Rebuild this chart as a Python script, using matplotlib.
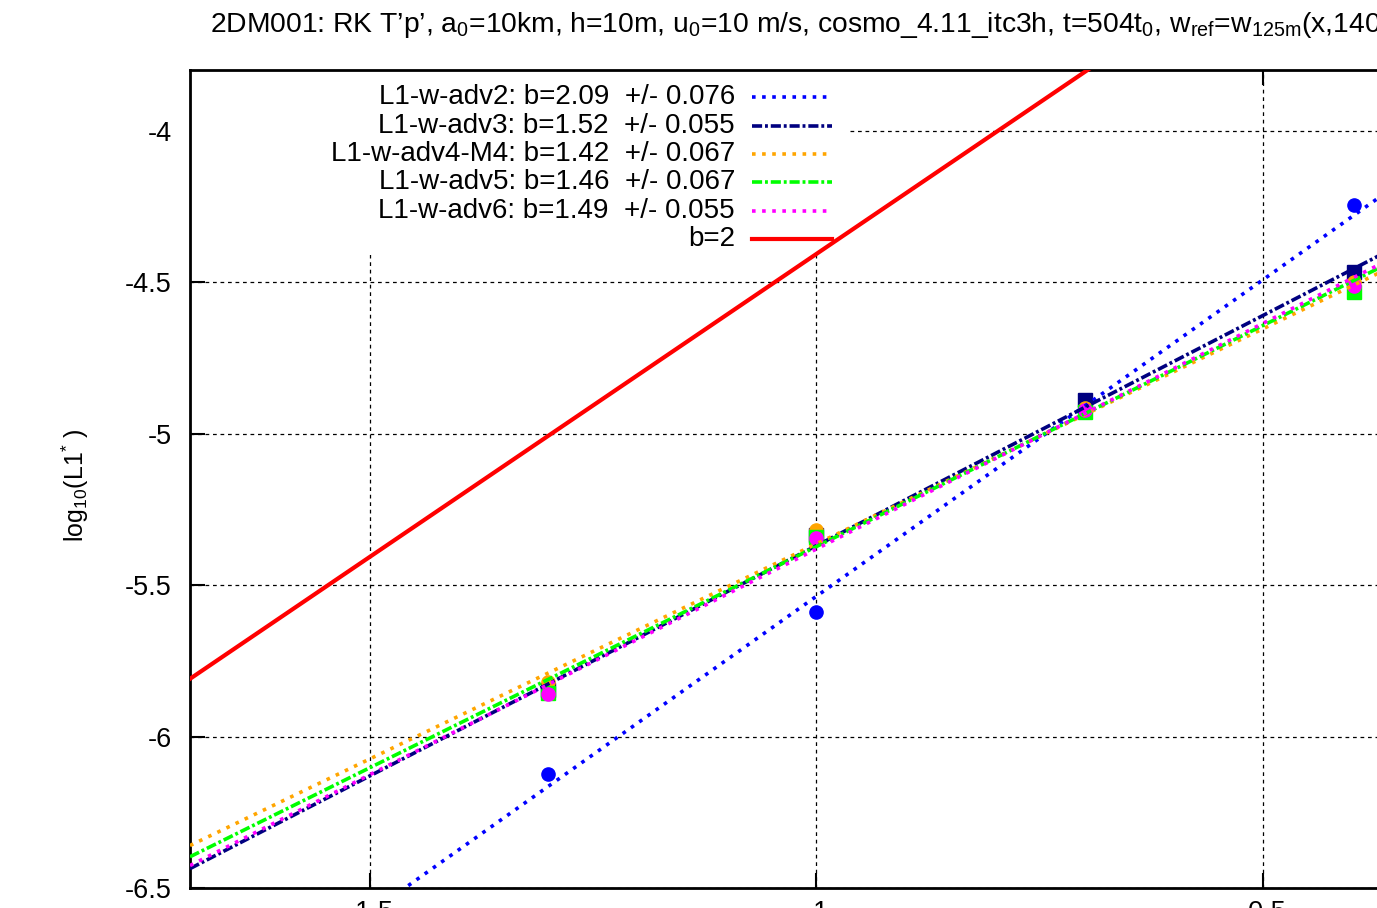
import matplotlib
matplotlib.use("Agg")
import matplotlib.pyplot as plt
import numpy as np

plt.rcParams['font.family'] = ['Liberation Sans', 'DejaVu Sans']
plt.rcParams['mathtext.fontset'] = 'custom'
plt.rcParams['mathtext.rm'] = 'Liberation Sans'
plt.rcParams['mathtext.it'] = 'Liberation Sans'
plt.rcParams['mathtext.default'] = 'regular'

# log10 of resolution, measured points
x_pts = [-1.301, -1.0, -0.699, -0.398]
adv2 = [-6.124, -5.588, -4.890, -4.247]
adv3 = [-5.845, -5.335, -4.890, -4.467]
adv4 = [-5.819, -5.317, -4.915, -4.500]
adv5 = [-5.857, -5.340, -4.930, -4.533]
adv6 = [-5.860, -5.346, -4.923, -4.514]

# fitted lines y = a + b*x
names = ["L1-w-adv2", "L1-w-adv3", "L1-w-adv4-M4", "L1-w-adv5", "L1-w-adv6"]
slopes = [2.09, 1.52, 1.42, 1.46, 1.49]
errs = ["0.076", "0.055", "0.067", "0.067", "0.055"]
intercepts = [-3.447, -3.850, -3.944, -3.913, -3.891]
ref_slope = 2
ref_intercept = -2.407

colors = ["#0000ff", "#000080", "#ffa500", "#00ff00", "#ff00ff"]
markers = ["o", "s", "o", "s", "o"]
dot = (1, 1.8)
dashdot = (2.8, 0.8, 0.8, 0.8)
dashes = [dot, dashdot, dot, dashdot, dot]
LW = 2.6
FS = 20

W, H = 1377, 908
fig = plt.figure(figsize=(W / 100, H / 100), dpi=100)
x0, x1 = -1.7013, -0.3143
ax = fig.add_axes([190 / W, 1 - 888 / H, (1429 - 190) / W, (888 - 70) / H])
ax.set_xlim(x0, x1)
ax.set_ylim(-6.5, -3.8)

ax.grid(True, color='black', linestyle=(0, (3, 3)), linewidth=0.9, zorder=0)
ax.set_axisbelow(True)

# opaque key area hides the grid
key_bg = plt.Rectangle((x0, -4.412), -0.965 - x0, 0.612, facecolor='white',
                       edgecolor='none', zorder=1)
ax.add_patch(key_bg)

series = [adv2, adv3, adv4, adv5, adv6]
xx = np.array([x0, x1])
for i in range(5):
    ax.plot(x_pts, series[i], linestyle='none', marker=markers[i], color=colors[i],
            markersize=9.5, zorder=3)
for i in range(5):
    ax.plot(xx, intercepts[i] + slopes[i] * xx, color=colors[i], linewidth=LW,
            dashes=dashes[i], zorder=4)
ax.plot(xx, ref_intercept + ref_slope * xx, color='#ff0000', linewidth=3, zorder=4)

# key
rows = [0.967, 0.9315, 0.8973, 0.8631, 0.8276, 0.7934]
for i in range(5):
    ax.text(0.4399, rows[i], f"{names[i]}: b={slopes[i]:.2f}  +/- {errs[i]}",
            transform=ax.transAxes, ha='right', va='center', fontsize=FS, zorder=5)
    ax.plot([0.4536, 0.5182], [rows[i], rows[i]], transform=ax.transAxes,
            color=colors[i], linewidth=LW, dashes=dashes[i], zorder=5)
ax.text(0.4399, rows[5], "b=2", transform=ax.transAxes, ha='right', va='center',
        fontsize=FS, zorder=5)
ax.plot([0.4536, 0.5182], [rows[5], rows[5]], transform=ax.transAxes,
        color='#ff0000', linewidth=3, zorder=5)

ax.set_xticks([-1.5, -1.0, -0.5])
ax.set_xticklabels(["-1.5", "-1", "-0.5"])
ax.set_yticks([-4, -4.5, -5, -5.5, -6, -6.5])
ax.set_yticklabels(["-4", "-4.5", "-5", "-5.5", "-6", "-6.5"])
ax.tick_params(direction='in', length=11, width=1.5, labelsize=19.5, top=True, right=True)
ax.tick_params(axis='y', pad=13)
ax.tick_params(axis='x', pad=9)
for s in ax.spines.values():
    s.set_linewidth(2)

fig.text(75 / W, 1 - 485 / H, r"log$_{10}$(L1$^{*}$ )", rotation=90, ha='center',
         va='center', fontsize=18)
fig.text(210 / W, 1 - 25 / H,
         r"2DM001: RK T’p’, a$_{0}$=10km, h=10m, u$_{0}$=10 m/s, cosmo_4.11_itc3h, "
         r"t=504t$_{0}$, w$_{ref}$=w$_{125m}$(x,140m)",
         ha='left', va='center', fontsize=20.3)

fig.savefig("out.png", dpi=100)
